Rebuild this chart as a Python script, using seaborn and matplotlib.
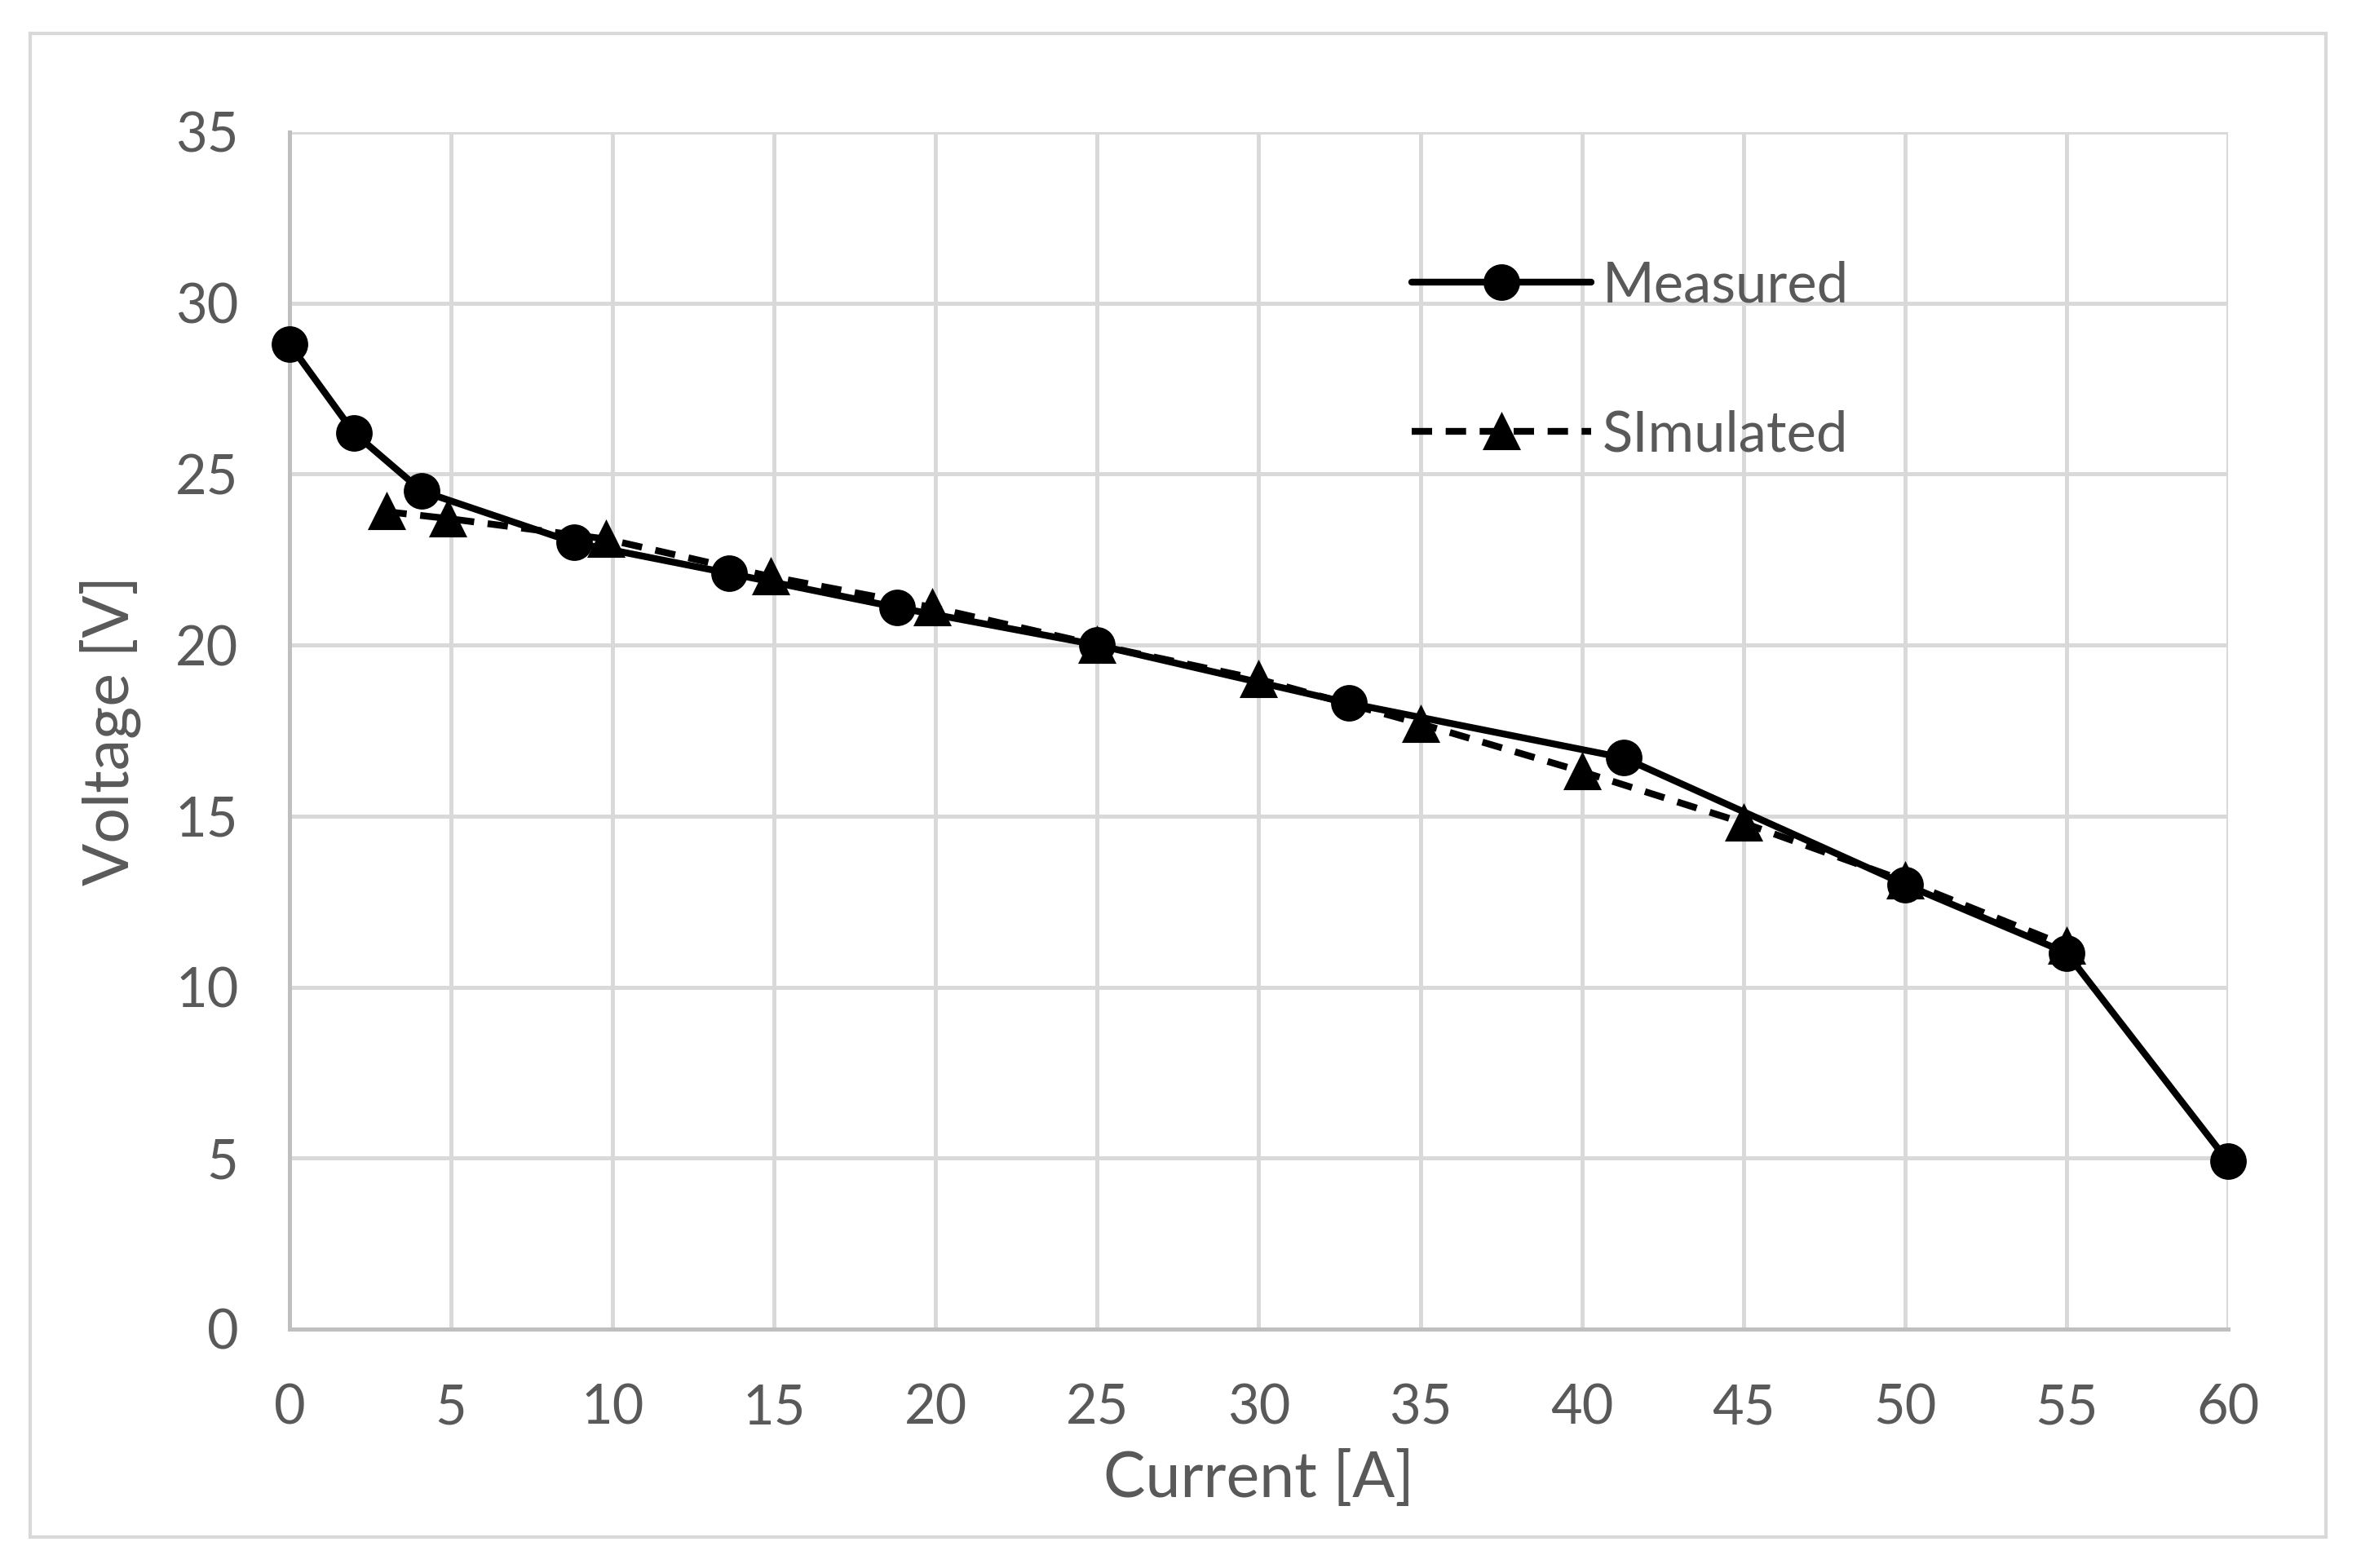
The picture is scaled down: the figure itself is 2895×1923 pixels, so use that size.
import pandas as pd
import matplotlib.pyplot as plt
import seaborn as sns
from matplotlib.patches import Rectangle

# data
measured_current = [0, 2.0, 4.1, 8.8, 13.6, 18.8, 25.0, 32.8, 41.3, 50.0, 55.0, 60.0]
measured_voltage = [28.8, 26.2, 24.5, 23.0, 22.1, 21.1, 20.0, 18.3, 16.7, 13.0, 11.0, 4.9]
simulated_current = [3.0, 4.9, 9.8, 14.9, 19.9, 25.0, 30.0, 35.0, 40.0, 45.0, 50.0, 55.0]
simulated_voltage = [23.9, 23.7, 23.1, 22.0, 21.1, 20.0, 19.0, 17.7, 16.3, 14.8, 13.1, 11.2]
x_ticks = list(range(0, 61, 5))
y_ticks = list(range(0, 36, 5))

df_meas = pd.DataFrame({'Current': measured_current, 'Voltage': measured_voltage})
df_sim = pd.DataFrame({'Current': simulated_current, 'Voltage': simulated_voltage})

sns.set_style('white')
plt.rcParams['font.family'] = ['Lato', 'DejaVu Sans']

grey_text = '#595959'
grid_col = '#d9d9d9'

fig = plt.figure(figsize=(9.65, 6.41), dpi=300)
ax = fig.add_axes([0.1226, 0.1524, 0.8211, 0.7634])

# outer chart border
fig.patches.append(Rectangle((0.0128, 0.0198), 0.9724, 0.9589, transform=fig.transFigure,
                             fill=False, edgecolor=grid_col, linewidth=1.0))

sns.lineplot(data=df_meas, x='Current', y='Voltage', sort=False, ax=ax, color='black',
             linewidth=2.0, marker='o', markersize=10, markeredgecolor='black',
             label='Measured', zorder=3, clip_on=False)
sns.lineplot(data=df_sim, x='Current', y='Voltage', sort=False, ax=ax, color='black',
             linewidth=2.0, linestyle=(0, (3, 2)), marker='^', markersize=10,
             markeredgecolor='black', label='SImulated', zorder=4, clip_on=False)

ax.set_xlim(0, 60)
ax.set_ylim(0, 35)
ax.set_xticks(x_ticks)
ax.set_yticks(y_ticks)
ax.grid(True, color=grid_col, linewidth=1.2)
ax.set_axisbelow(True)
ax.tick_params(axis='both', length=0, labelsize=16, colors=grey_text)
ax.tick_params(axis='y', pad=15)
ax.tick_params(axis='x', pad=16)
for side in ['top', 'right']:
    ax.spines[side].set_visible(False)
for side in ['left', 'bottom']:
    ax.spines[side].set_color('#bfbfbf')
    ax.spines[side].set_linewidth(1.2)

ax.set_xlabel('Current [A]', fontsize=18.5, color=grey_text, labelpad=5)
ax.set_ylabel('Voltage [V]', fontsize=18.5, color=grey_text, labelpad=10)

leg = ax.legend(loc='upper left', bbox_to_anchor=(0.553, 0.935), frameon=False,
                fontsize=16.5, handlelength=3.2, labelspacing=1.75, handletextpad=0.2)
for t in leg.get_texts():
    t.set_color(grey_text)

fig.savefig('out.png', dpi=300)
